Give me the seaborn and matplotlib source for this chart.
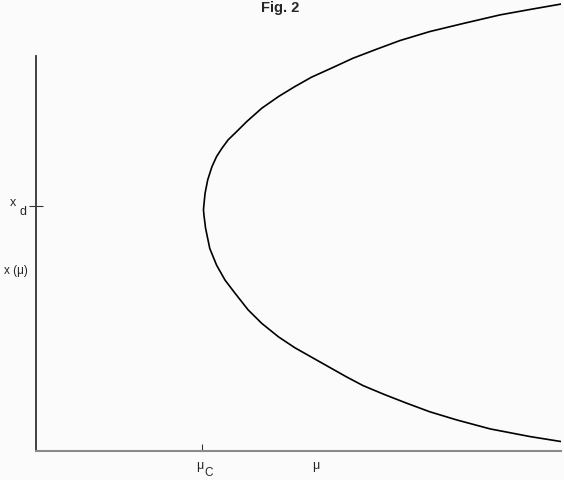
import matplotlib
matplotlib.use('Agg')
import matplotlib.pyplot as plt
import seaborn as sns

# points, traced from the top branch down
mu_vals = [10.0, 9.41, 8.84, 8.14, 7.50, 6.93, 6.49, 6.04, 5.63, 5.25, 4.93, 4.62,
           4.30, 4.01, 3.82, 3.66, 3.54, 3.44, 3.35, 3.27, 3.22, 3.20,
           3.19,
           3.20, 3.23, 3.31, 3.44, 3.60, 3.79, 4.04, 4.30, 4.62, 4.93, 5.31,
           5.60, 5.92, 6.23, 6.62, 7.06, 7.50, 8.01, 8.65, 9.41, 10.0]
x_vals = [9.91, 9.79, 9.67, 9.48, 9.30, 9.10, 8.91, 8.71, 8.49, 8.29, 8.08, 7.86,
          7.60, 7.30, 7.08, 6.90, 6.71, 6.53, 6.30, 6.01, 5.71, 5.48,
          5.35,
          5.22, 4.94, 4.49, 4.12, 3.79, 3.50, 3.13, 2.83, 2.53, 2.29, 2.04,
          1.85, 1.64, 1.45, 1.26, 1.06, 0.87, 0.69, 0.49, 0.32, 0.21]
mu_c = 3.16
x_d = 5.43

sns.set_style('white')
plt.rcParams['font.family'] = ['Liberation Sans', 'DejaVu Sans']

fig = plt.figure(figsize=(5.64, 4.80), dpi=100, facecolor='#fbfbfb')
ax = fig.add_axes([36 / 564, 29 / 480, 525 / 564, 451 / 480])
ax.set_facecolor('#fbfbfb')

sns.lineplot(x=mu_vals, y=x_vals, sort=False, estimator=None, color='black', lw=1.2, ax=ax)
for ln in ax.lines:
    ln.set_solid_joinstyle('round')

ax.set_xlim(0, 10)
ax.set_ylim(0, 10)
ax.spines['top'].set_visible(False)
ax.spines['right'].set_visible(False)
ax.spines['left'].set_color('#333333')
ax.spines['left'].set_linewidth(1.3)
ax.spines['left'].set_bounds(0, 8.76)
ax.spines['bottom'].set_color('#8a8a8a')
ax.spines['bottom'].set_linewidth(1.5)

ax.set_xticks([mu_c])
ax.set_yticks([x_d])
ax.set_xticklabels([])
ax.set_yticklabels([])
ax.tick_params(axis='x', bottom=True, direction='in', length=5, width=0.8, color='#333333')
ax.tick_params(axis='y', left=True, direction='inout', length=10, width=0.8, color='#333333')

# axis annotations
ax.text(-0.38, x_d + 0.07, 'x', fontsize=9, ha='right', va='center', clip_on=False)
ax.text(-0.19, x_d - 0.12, 'd', fontsize=9, ha='right', va='center', clip_on=False)
ax.text(-0.15, 4.0, 'x (\u03bc)', fontsize=8.5, ha='right', va='center', clip_on=False)
ax.text(mu_c - 0.04, -0.2, '\u03bc', fontsize=9, ha='center', va='top', clip_on=False)
ax.text(mu_c + 0.12, -0.36, 'C', fontsize=8.5, ha='center', va='top', clip_on=False)
ax.text(5.32, -0.2, '\u03bc', fontsize=9, ha='center', va='top', clip_on=False)

fig.text(280 / 564, 1 - 8 / 480, 'Fig. 2', fontsize=10.5, fontweight='bold', ha='center', va='center')

fig.savefig('out.png', dpi=100, facecolor=fig.get_facecolor())
